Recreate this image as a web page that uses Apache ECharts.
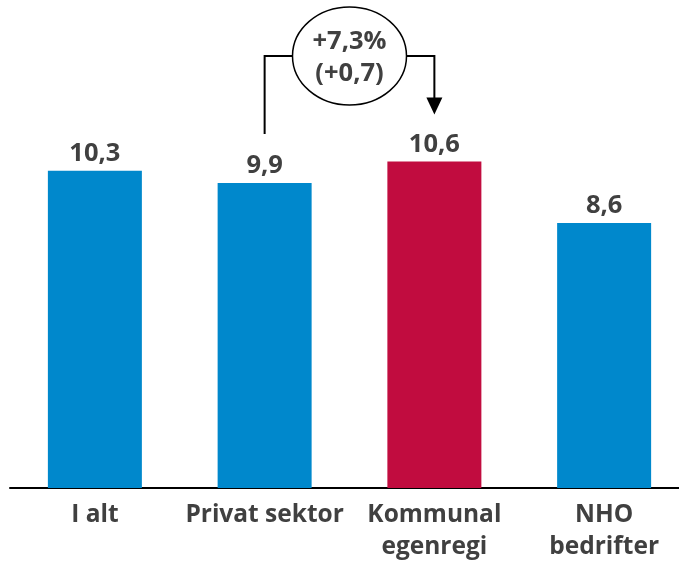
<!DOCTYPE html>
<html><head><meta charset="utf-8">
<script src="https://cdn.jsdelivr.net/npm/echarts@6/dist/echarts.min.js"></script>
<style>html,body{margin:0;padding:0;background:#fff;overflow:hidden;width:679px;height:564px}#c{width:700px;height:564px}</style>
</head><body><div id="c"></div>
<script>
const categories = ['I alt', 'Privat sektor', 'Kommunal\negenregi', 'NHO\nbedrifter'];
const values = [10.3, 9.9, 10.6, 8.6];
const barColors = ['#0088CC', '#0088CC', '#C10C3F', '#0088CC'];
const annotationLines = ['+7,3%', '(+0,7)'];
const FONT = '"Open Sans", sans-serif';
const TXT = '#404040';

const chart = echarts.init(document.getElementById('c'), null, {renderer: 'canvas'});
chart.setOption({
  animation: false,
  grid: {left: 10, width: 679, top: 26, bottom: 76, containLabel: false},
  xAxis: {
    type: 'category', data: categories,
    axisLine: {lineStyle: {color: '#000', width: 2}},
    axisTick: {show: false},
    axisLabel: {interval: 0, margin: 11, color: TXT, fontFamily: FONT, fontWeight: 'bold', fontSize: 24.5, lineHeight: 32}
  },
  yAxis: {type: 'value', min: 0, max: 15, show: false, splitLine: {show: false}},
  series: [{
    type: 'bar', barWidth: 94,
    data: values.map((v, i) => ({value: v, itemStyle: {color: barColors[i]}})),
    label: {show: true, position: 'top', distance: 4, color: TXT, fontFamily: FONT, fontWeight: 'bold', fontSize: 25.5,
      formatter: p => String(p.value).replace('.', ',')}
  }]
});

const p2 = chart.convertToPixel({seriesIndex: 0}, [1, values[1]]);
const p3 = chart.convertToPixel({seriesIndex: 0}, [2, values[2]]);
const hy = 56;
const cx = (p2[0] + p3[0]) / 2;
const rx = 57, ry = 49;
const leftBottom = p2[1] - 49;
const tipY = p3[1] - 47;
const ls = {stroke: '#000', lineWidth: 2};
chart.setOption({
  graphic: [
    {type: 'polyline', shape: {points: [[p2[0], leftBottom], [p2[0], hy], [cx - rx, hy]]}, style: Object.assign({fill: null}, ls)},
    {type: 'polyline', shape: {points: [[cx + rx, hy], [p3[0], hy], [p3[0], tipY - 16]]}, style: Object.assign({fill: null}, ls)},
    {type: 'polygon', shape: {points: [[p3[0] - 8, tipY - 17], [p3[0] + 8, tipY - 17], [p3[0], tipY]]}, style: {fill: '#000'}},
    {type: 'ellipse', shape: {cx: cx, cy: hy, rx: rx, ry: ry}, style: {fill: '#fff', stroke: '#000', lineWidth: 1.5}},
    {type: 'text', x: cx, y: hy - 14, style: {text: annotationLines[0], align: 'center', verticalAlign: 'middle', fill: TXT, font: 'bold 25.5px ' + FONT}},
    {type: 'text', x: cx, y: hy + 18, style: {text: annotationLines[1], align: 'center', verticalAlign: 'middle', fill: TXT, font: 'bold 25.5px ' + FONT}}
  ]
});
</script></body></html>
